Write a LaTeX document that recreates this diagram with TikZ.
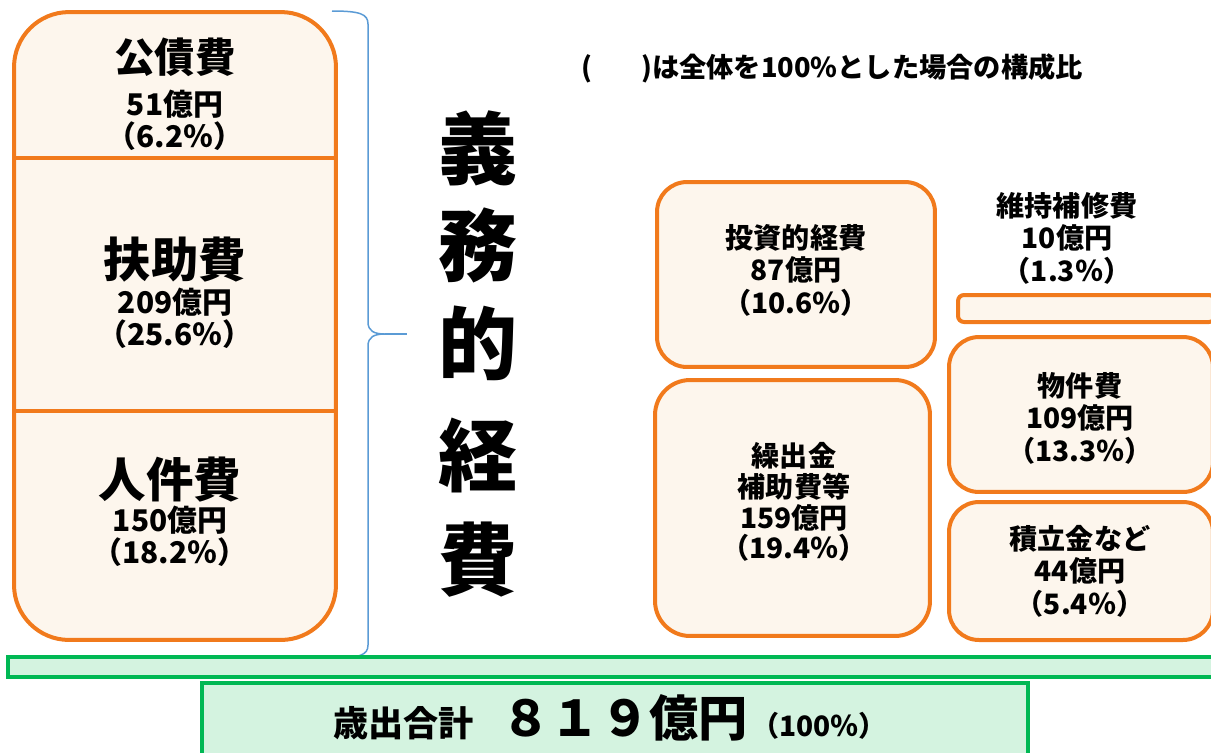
\documentclass[tikz,border=0pt]{standalone}
\usepackage{fontspec}
\setmainfont{Noto Sans CJK JP}
\newcommand{\fsz}[2]{\fontsize{#1}{#2}\selectfont}
\definecolor{orng}{RGB}{241,122,28}
\definecolor{cream}{RGB}{253,246,237}
\definecolor{grn}{RGB}{0,184,84}
\definecolor{mint}{RGB}{212,243,224}
\definecolor{brc}{RGB}{91,155,213}
\begin{document}
\begin{tikzpicture}[x=0.02cm,y=-0.02cm,
    card/.style={draw=orng,fill=cream,line width=0.08cm,rounded corners=0.6cm,inner sep=0pt},
    sumbox/.style={draw=grn,fill=mint,line width=0.08cm,inner sep=0pt},
    lbl/.style={font=\bfseries,align=center,inner sep=0pt}]
    \useasboundingbox (0,0) rectangle (1211,752);
    % left column
    \node[card,rounded corners=1.1cm,minimum width=6.44cm,minimum height=12.56cm](gimu)at(175,326){};
    \draw[orng,line width=0.08cm](14,158)--(337,158);
    \draw[orng,line width=0.08cm](14,411)--(338,411);
    \node[lbl,font=\bfseries\fsz{23}{26}](kosai)at(175,57){公債費};
    \node[lbl,font=\bfseries\fsz{17}{18}](kosaiv)at(175,120){51億円\\（6.2％）};
    \node[lbl,font=\bfseries\fsz{27}{30}](fujo)at(175,260){扶助費};
    \node[lbl,font=\bfseries\fsz{17}{18}](fujov)at(175,318){209億円\\（25.6％）};
    \node[lbl,font=\bfseries\fsz{27}{30}](jinken)at(170,480){人件費};
    \node[lbl,font=\bfseries\fsz{17}{18}](jinkenv)at(170,536){150億円\\（18.2％）};
    % brace
    \coordinate(brtop)at(332,11);
    \coordinate(brtip)at(407,334);
    \coordinate(brbot)at(332,658);
    \draw[brc,line width=0.03cm](brtop)..controls(360,11)and(368,14)..(368,24)--(368,322)
        ..controls(368,331)and(374,334)..(385,334)..controls(374,334)and(368,337)..(368,346)
        --(368,645)..controls(368,655)and(360,658)..(brbot);
    \draw[brc,line width=0.03cm](385,334)--(brtip);
    % vertical title
    \foreach \c/\y/\n in {義/148/a,務/245/b,的/343/c,経/455/d,費/560/e}
        \node[lbl,font=\bfseries\fsz{45}{45}](gk\n)at(478,\y){\c};
    \node[lbl,font=\bfseries\fsz{15.5}{16}](note)at(832,68){(\hspace{1.8em})は全体を100\%とした場合の構成比};
    % right blocks
    \node[card,minimum width=5.56cm,minimum height=3.7cm](toushi)at(796,274.5){};
    \node[lbl,font=\bfseries\fsz{16}{18.5}](toushitxt)at(796,270){投資的経費\\87億円\\（10.6％）};
    \node[lbl,font=\bfseries\fsz{16}{18.5}](iji)at(1067,238){維持補修費\\10億円\\（1.3％）};
    \node[card,rounded corners=0.12cm,minimum width=5.14cm,minimum height=0.54cm](ijibar)at(1086.5,308.5){};
    \node[card,rounded corners=0.7cm,minimum width=5.5cm,minimum height=5.12cm](kuri)at(792.5,508){};
    \node[lbl,font=\bfseries\fsz{16}{17.5}](kuritxt)at(794,502){繰出金\\補助費等\\159億円\\（19.4％）};
    \node[card,minimum width=5.28cm,minimum height=3.1cm](bukken)at(1081,414.5){};
    \node[lbl,font=\bfseries\fsz{16}{18.5}](bukkentxt)at(1080,418){物件費\\109億円\\（13.3％）};
    \node[card,minimum width=5.28cm,minimum height=2.76cm](tsumi)at(1081,571){};
    \node[lbl,font=\bfseries\fsz{16}{18.5}](tsumitxt)at(1080,571){積立金など\\44億円\\（5.4％）};
    % total
    \node[sumbox,minimum width=24.14cm,minimum height=0.4cm](gbar)at(611.5,667){};
    \node[sumbox,minimum width=16.52cm,minimum height=1.46cm](total)at(615,719.5){};
    \node[lbl](totaltxt)at(610,718){{\fsz{20}{22}歳出合計}\hspace{1.6em}{\fsz{28}{30}８１９億円}\hspace{0.2em}{\fsz{16}{17}（100％）}};
\end{tikzpicture}
\end{document}
